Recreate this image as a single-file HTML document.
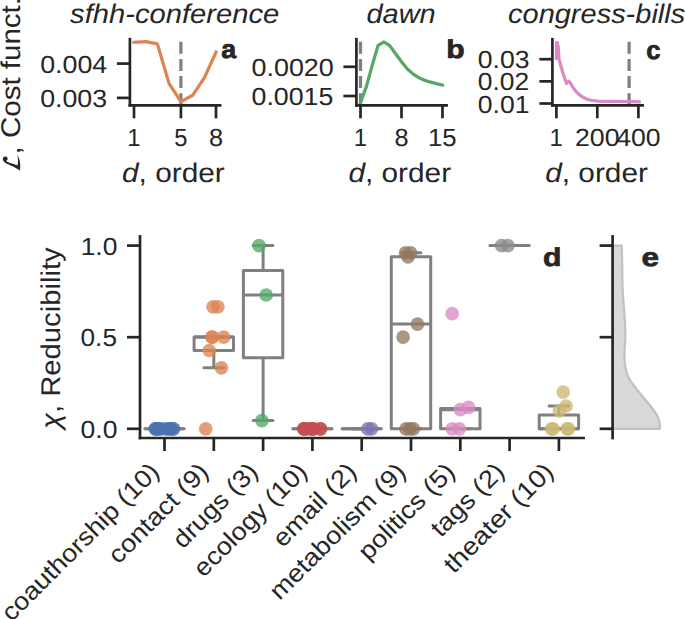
<!DOCTYPE html>
<html><head><meta charset="utf-8"><style>
html,body{margin:0;padding:0;background:#fff;}
svg{display:block;font-family:"Liberation Sans",sans-serif;font-kerning:none;text-rendering:geometricPrecision;}
</style></head><body>
<svg width="685" height="619" viewBox="0 0 685 619">
<rect width="685" height="619" fill="#fff"/>
<line x1="180.90" y1="105.30" x2="180.90" y2="39.20" stroke="#808080" stroke-width="3.24" stroke-linecap="butt" stroke-dasharray="12 5.18"/>
<polyline points="134.00,42.30 145.70,41.70 157.40,43.90 169.10,83.60 180.90,101.60 192.60,95.30 204.30,77.80 216.00,52.20" fill="none" stroke="#dd8452" stroke-width="3.24" stroke-linejoin="round" stroke-linecap="square"/>
<line x1="360.50" y1="105.30" x2="360.50" y2="39.20" stroke="#808080" stroke-width="3.24" stroke-linecap="butt" stroke-dasharray="12 5.18"/>
<polyline points="360.50,102.60 366.36,86.60 372.21,65.40 378.07,45.40 383.93,42.00 389.79,45.70 395.64,53.70 401.50,61.70 407.36,69.00 413.21,74.10 419.07,77.80 424.93,80.40 430.78,82.20 436.64,83.60 442.50,85.10" fill="none" stroke="#55a868" stroke-width="3.24" stroke-linejoin="round" stroke-linecap="square"/>
<line x1="629.10" y1="105.30" x2="629.10" y2="39.20" stroke="#808080" stroke-width="3.24" stroke-linecap="butt" stroke-dasharray="12 5.18"/>
<polyline points="556.40,58.30 556.60,42.30 557.50,43.00 557.70,56.00 558.00,45.50 558.50,50.00 559.00,59.00 560.30,63.50 561.20,67.00 562.60,72.00 564.10,76.70 565.40,80.50 566.50,83.50 567.80,82.20 568.90,81.10 570.20,82.60 572.30,86.40 574.30,89.20 576.20,91.70 581.00,96.00 584.50,98.00 588.00,99.60 592.40,100.50 598.00,101.10 605.00,101.30 612.00,101.30 620.00,101.50 630.00,101.70 639.20,101.80" fill="none" stroke="#da8bc3" stroke-width="3.24" stroke-linejoin="round" stroke-linecap="square"/>
<path d="M144.80,428.80 H184.20 V428.80 H144.80 Z" fill="none" stroke="#808080" stroke-width="3.0" stroke-linejoin="round" stroke-linecap="round"/>
<line x1="144.80" y1="428.80" x2="184.20" y2="428.80" stroke="#808080" stroke-width="3.0" stroke-linecap="butt"/>
<line x1="154.65" y1="428.80" x2="174.35" y2="428.80" stroke="#808080" stroke-width="3.0" stroke-linecap="round"/>
<line x1="154.65" y1="428.80" x2="174.35" y2="428.80" stroke="#808080" stroke-width="3.0" stroke-linecap="round"/>
<path d="M194.10,337.10 H233.50 V350.50 H194.10 Z" fill="none" stroke="#808080" stroke-width="3.0" stroke-linejoin="round" stroke-linecap="round"/>
<line x1="194.10" y1="337.10" x2="233.50" y2="337.10" stroke="#808080" stroke-width="3.0" stroke-linecap="butt"/>
<line x1="213.80" y1="350.50" x2="213.80" y2="367.80" stroke="#808080" stroke-width="3.0" stroke-linecap="butt"/>
<line x1="203.95" y1="337.10" x2="223.65" y2="337.10" stroke="#808080" stroke-width="3.0" stroke-linecap="round"/>
<line x1="203.95" y1="367.80" x2="223.65" y2="367.80" stroke="#808080" stroke-width="3.0" stroke-linecap="round"/>
<path d="M243.40,270.40 H282.80 V357.70 H243.40 Z" fill="none" stroke="#808080" stroke-width="3.0" stroke-linejoin="round" stroke-linecap="round"/>
<line x1="243.40" y1="295.00" x2="282.80" y2="295.00" stroke="#808080" stroke-width="3.0" stroke-linecap="butt"/>
<line x1="263.10" y1="270.40" x2="263.10" y2="245.60" stroke="#808080" stroke-width="3.0" stroke-linecap="butt"/>
<line x1="263.10" y1="357.70" x2="263.10" y2="420.60" stroke="#808080" stroke-width="3.0" stroke-linecap="butt"/>
<line x1="253.25" y1="245.60" x2="272.95" y2="245.60" stroke="#808080" stroke-width="3.0" stroke-linecap="round"/>
<line x1="253.25" y1="420.60" x2="272.95" y2="420.60" stroke="#808080" stroke-width="3.0" stroke-linecap="round"/>
<path d="M292.70,428.80 H332.10 V428.80 H292.70 Z" fill="none" stroke="#808080" stroke-width="3.0" stroke-linejoin="round" stroke-linecap="round"/>
<line x1="292.70" y1="428.80" x2="332.10" y2="428.80" stroke="#808080" stroke-width="3.0" stroke-linecap="butt"/>
<line x1="302.55" y1="428.80" x2="322.25" y2="428.80" stroke="#808080" stroke-width="3.0" stroke-linecap="round"/>
<line x1="302.55" y1="428.80" x2="322.25" y2="428.80" stroke="#808080" stroke-width="3.0" stroke-linecap="round"/>
<path d="M342.00,428.80 H381.40 V428.80 H342.00 Z" fill="none" stroke="#808080" stroke-width="3.0" stroke-linejoin="round" stroke-linecap="round"/>
<line x1="342.00" y1="428.80" x2="381.40" y2="428.80" stroke="#808080" stroke-width="3.0" stroke-linecap="butt"/>
<line x1="351.85" y1="428.80" x2="371.55" y2="428.80" stroke="#808080" stroke-width="3.0" stroke-linecap="round"/>
<line x1="351.85" y1="428.80" x2="371.55" y2="428.80" stroke="#808080" stroke-width="3.0" stroke-linecap="round"/>
<path d="M391.30,256.70 H430.70 V428.80 H391.30 Z" fill="none" stroke="#808080" stroke-width="3.0" stroke-linejoin="round" stroke-linecap="round"/>
<line x1="391.30" y1="324.10" x2="430.70" y2="324.10" stroke="#808080" stroke-width="3.0" stroke-linecap="butt"/>
<line x1="411.00" y1="256.70" x2="411.00" y2="252.80" stroke="#808080" stroke-width="3.0" stroke-linecap="butt"/>
<line x1="401.15" y1="252.80" x2="420.85" y2="252.80" stroke="#808080" stroke-width="3.0" stroke-linecap="round"/>
<line x1="401.15" y1="428.80" x2="420.85" y2="428.80" stroke="#808080" stroke-width="3.0" stroke-linecap="round"/>
<path d="M440.60,408.60 H480.00 V428.80 H440.60 Z" fill="none" stroke="#808080" stroke-width="3.0" stroke-linejoin="round" stroke-linecap="round"/>
<line x1="440.60" y1="409.80" x2="480.00" y2="409.80" stroke="#808080" stroke-width="3.0" stroke-linecap="butt"/>
<line x1="450.45" y1="408.60" x2="470.15" y2="408.60" stroke="#808080" stroke-width="3.0" stroke-linecap="round"/>
<line x1="450.45" y1="428.80" x2="470.15" y2="428.80" stroke="#808080" stroke-width="3.0" stroke-linecap="round"/>
<path d="M489.90,245.60 H529.30 V245.60 H489.90 Z" fill="none" stroke="#808080" stroke-width="3.0" stroke-linejoin="round" stroke-linecap="round"/>
<line x1="489.90" y1="245.60" x2="529.30" y2="245.60" stroke="#808080" stroke-width="3.0" stroke-linecap="butt"/>
<line x1="499.75" y1="245.60" x2="519.45" y2="245.60" stroke="#808080" stroke-width="3.0" stroke-linecap="round"/>
<line x1="499.75" y1="245.60" x2="519.45" y2="245.60" stroke="#808080" stroke-width="3.0" stroke-linecap="round"/>
<path d="M539.20,414.90 H578.60 V428.80 H539.20 Z" fill="none" stroke="#808080" stroke-width="3.0" stroke-linejoin="round" stroke-linecap="round"/>
<line x1="539.20" y1="428.80" x2="578.60" y2="428.80" stroke="#808080" stroke-width="3.0" stroke-linecap="butt"/>
<line x1="558.90" y1="414.90" x2="558.90" y2="406.00" stroke="#808080" stroke-width="3.0" stroke-linecap="butt"/>
<line x1="549.05" y1="406.00" x2="568.75" y2="406.00" stroke="#808080" stroke-width="3.0" stroke-linecap="round"/>
<line x1="549.05" y1="428.80" x2="568.75" y2="428.80" stroke="#808080" stroke-width="3.0" stroke-linecap="round"/>
<circle cx="155.20" cy="428.80" r="6.85" fill="#4c72b0" fill-opacity="0.78"/>
<circle cx="155.80" cy="428.80" r="6.85" fill="#4c72b0" fill-opacity="0.78"/>
<circle cx="157.00" cy="428.80" r="6.85" fill="#4c72b0" fill-opacity="0.78"/>
<circle cx="158.80" cy="428.80" r="6.85" fill="#4c72b0" fill-opacity="0.78"/>
<circle cx="161.00" cy="428.80" r="6.85" fill="#4c72b0" fill-opacity="0.78"/>
<circle cx="166.20" cy="428.80" r="6.85" fill="#4c72b0" fill-opacity="0.78"/>
<circle cx="168.50" cy="428.80" r="6.85" fill="#4c72b0" fill-opacity="0.78"/>
<circle cx="170.80" cy="428.80" r="6.85" fill="#4c72b0" fill-opacity="0.78"/>
<circle cx="172.60" cy="428.80" r="6.85" fill="#4c72b0" fill-opacity="0.78"/>
<circle cx="173.60" cy="428.80" r="6.85" fill="#4c72b0" fill-opacity="0.78"/>
<circle cx="213.00" cy="306.80" r="6.85" fill="#dd8452" fill-opacity="0.78"/>
<circle cx="217.90" cy="306.80" r="6.85" fill="#dd8452" fill-opacity="0.78"/>
<circle cx="211.90" cy="337.10" r="6.85" fill="#dd8452" fill-opacity="0.78"/>
<circle cx="212.20" cy="337.10" r="6.85" fill="#dd8452" fill-opacity="0.78"/>
<circle cx="223.60" cy="337.10" r="6.85" fill="#dd8452" fill-opacity="0.78"/>
<circle cx="209.30" cy="350.50" r="6.85" fill="#dd8452" fill-opacity="0.78"/>
<circle cx="221.40" cy="367.80" r="6.85" fill="#dd8452" fill-opacity="0.78"/>
<circle cx="205.70" cy="428.80" r="6.85" fill="#dd8452" fill-opacity="0.78"/>
<circle cx="259.00" cy="245.60" r="6.85" fill="#55a868" fill-opacity="0.78"/>
<circle cx="266.20" cy="295.00" r="6.85" fill="#55a868" fill-opacity="0.78"/>
<circle cx="261.90" cy="420.60" r="6.85" fill="#55a868" fill-opacity="0.78"/>
<circle cx="303.60" cy="428.80" r="6.85" fill="#c44e52" fill-opacity="0.78"/>
<circle cx="304.00" cy="428.80" r="6.85" fill="#c44e52" fill-opacity="0.78"/>
<circle cx="304.60" cy="428.80" r="6.85" fill="#c44e52" fill-opacity="0.78"/>
<circle cx="306.50" cy="428.80" r="6.85" fill="#c44e52" fill-opacity="0.78"/>
<circle cx="311.00" cy="428.80" r="6.85" fill="#c44e52" fill-opacity="0.78"/>
<circle cx="311.80" cy="428.80" r="6.85" fill="#c44e52" fill-opacity="0.78"/>
<circle cx="312.50" cy="428.80" r="6.85" fill="#c44e52" fill-opacity="0.78"/>
<circle cx="313.50" cy="428.80" r="6.85" fill="#c44e52" fill-opacity="0.78"/>
<circle cx="320.20" cy="428.80" r="6.85" fill="#c44e52" fill-opacity="0.78"/>
<circle cx="320.60" cy="428.80" r="6.85" fill="#c44e52" fill-opacity="0.78"/>
<circle cx="367.80" cy="428.80" r="6.85" fill="#8172b3" fill-opacity="0.78"/>
<circle cx="371.50" cy="428.80" r="6.85" fill="#8172b3" fill-opacity="0.78"/>
<circle cx="405.60" cy="252.80" r="6.85" fill="#937860" fill-opacity="0.78"/>
<circle cx="410.60" cy="252.80" r="6.85" fill="#937860" fill-opacity="0.78"/>
<circle cx="408.00" cy="257.00" r="6.85" fill="#937860" fill-opacity="0.78"/>
<circle cx="417.50" cy="324.10" r="6.85" fill="#937860" fill-opacity="0.78"/>
<circle cx="403.10" cy="337.20" r="6.85" fill="#937860" fill-opacity="0.78"/>
<circle cx="406.00" cy="428.80" r="6.85" fill="#937860" fill-opacity="0.78"/>
<circle cx="410.00" cy="428.80" r="6.85" fill="#937860" fill-opacity="0.78"/>
<circle cx="413.40" cy="428.80" r="6.85" fill="#937860" fill-opacity="0.78"/>
<circle cx="452.20" cy="313.70" r="6.85" fill="#da8bc3" fill-opacity="0.78"/>
<circle cx="460.40" cy="409.70" r="6.85" fill="#da8bc3" fill-opacity="0.78"/>
<circle cx="468.60" cy="407.40" r="6.85" fill="#da8bc3" fill-opacity="0.78"/>
<circle cx="452.20" cy="428.80" r="6.85" fill="#da8bc3" fill-opacity="0.78"/>
<circle cx="459.30" cy="428.80" r="6.85" fill="#da8bc3" fill-opacity="0.78"/>
<circle cx="501.60" cy="245.60" r="6.85" fill="#8c8c8c" fill-opacity="0.78"/>
<circle cx="508.00" cy="245.60" r="6.85" fill="#8c8c8c" fill-opacity="0.78"/>
<circle cx="563.20" cy="392.10" r="6.85" fill="#ccb974" fill-opacity="0.78"/>
<circle cx="566.10" cy="406.00" r="6.85" fill="#ccb974" fill-opacity="0.78"/>
<circle cx="559.40" cy="410.80" r="6.85" fill="#ccb974" fill-opacity="0.78"/>
<circle cx="551.50" cy="428.80" r="6.85" fill="#ccb974" fill-opacity="0.78"/>
<circle cx="553.20" cy="428.80" r="6.85" fill="#ccb974" fill-opacity="0.78"/>
<circle cx="567.00" cy="428.80" r="6.85" fill="#ccb974" fill-opacity="0.78"/>
<circle cx="568.60" cy="428.80" r="6.85" fill="#ccb974" fill-opacity="0.78"/>
<path d="M612.6,245.60 L621.60,245.60 C621.67,247.33 621.83,248.85 622.00,256.00 C622.17,263.15 622.32,280.40 622.60,288.50 C622.88,296.60 623.32,299.22 623.70,304.60 C624.08,309.98 624.63,315.40 624.90,320.80 C625.17,326.20 625.37,332.13 625.30,337.00 C625.23,341.87 624.62,346.08 624.50,350.00 C624.38,353.92 624.33,357.05 624.60,360.50 C624.87,363.95 625.28,367.58 626.10,370.70 C626.92,373.82 627.95,376.38 629.50,379.20 C631.05,382.02 633.15,384.63 635.40,387.60 C637.65,390.57 640.45,393.88 643.00,397.00 C645.55,400.12 648.43,403.35 650.70,406.30 C652.97,409.25 655.13,412.02 656.60,414.70 C658.07,417.38 658.97,420.05 659.50,422.40 C660.03,424.75 659.75,427.73 659.80,428.80 L612.6,428.80 Z" fill="#d9d9d9" stroke="none"/>
<path d="M612.6,245.60 L621.60,245.60 C621.67,247.33 621.83,248.85 622.00,256.00 C622.17,263.15 622.32,280.40 622.60,288.50 C622.88,296.60 623.32,299.22 623.70,304.60 C624.08,309.98 624.63,315.40 624.90,320.80 C625.17,326.20 625.37,332.13 625.30,337.00 C625.23,341.87 624.62,346.08 624.50,350.00 C624.38,353.92 624.33,357.05 624.60,360.50 C624.87,363.95 625.28,367.58 626.10,370.70 C626.92,373.82 627.95,376.38 629.50,379.20 C631.05,382.02 633.15,384.63 635.40,387.60 C637.65,390.57 640.45,393.88 643.00,397.00 C645.55,400.12 648.43,403.35 650.70,406.30 C652.97,409.25 655.13,412.02 656.60,414.70 C658.07,417.38 658.97,420.05 659.50,422.40 C660.03,424.75 659.75,427.73 659.80,428.80 L612.6,428.80" fill="none" stroke="#c2c2c2" stroke-width="2.3" stroke-linejoin="round"/>
<path d="M19.9,170.6 C20.7,167 20.6,160.5 17.3,154.6 C18.2,158.5 18.3,162.5 17.5,165.4 C13.5,163.7 8.5,162.6 6.0,160.9 C7.4,160.6 7.9,159.4 7.5,158.0 C7.0,156.4 4.6,156.0 3.4,157.3 C2.2,158.7 2.9,161.0 4.8,162.4 C8.5,165.0 14.5,166.2 19.9,170.6 Z" fill="#262626"/>
<line x1="129.90" y1="105.30" x2="129.90" y2="39.20" stroke="#262626" stroke-width="2.7" stroke-linecap="square"/>
<line x1="129.90" y1="105.30" x2="220.10" y2="105.30" stroke="#262626" stroke-width="2.7" stroke-linecap="square"/>
<line x1="134.00" y1="105.30" x2="134.00" y2="118.30" stroke="#262626" stroke-width="2.7" stroke-linecap="butt"/>
<line x1="180.90" y1="105.30" x2="180.90" y2="118.30" stroke="#262626" stroke-width="2.7" stroke-linecap="butt"/>
<line x1="216.00" y1="105.30" x2="216.00" y2="118.30" stroke="#262626" stroke-width="2.7" stroke-linecap="butt"/>
<line x1="116.90" y1="63.60" x2="129.90" y2="63.60" stroke="#262626" stroke-width="2.7" stroke-linecap="butt"/>
<line x1="116.90" y1="97.90" x2="129.90" y2="97.90" stroke="#262626" stroke-width="2.7" stroke-linecap="butt"/>
<line x1="356.40" y1="105.30" x2="356.40" y2="39.20" stroke="#262626" stroke-width="2.7" stroke-linecap="square"/>
<line x1="356.40" y1="105.30" x2="446.60" y2="105.30" stroke="#262626" stroke-width="2.7" stroke-linecap="square"/>
<line x1="360.50" y1="105.30" x2="360.50" y2="118.30" stroke="#262626" stroke-width="2.7" stroke-linecap="butt"/>
<line x1="401.50" y1="105.30" x2="401.50" y2="118.30" stroke="#262626" stroke-width="2.7" stroke-linecap="butt"/>
<line x1="442.50" y1="105.30" x2="442.50" y2="118.30" stroke="#262626" stroke-width="2.7" stroke-linecap="butt"/>
<line x1="343.40" y1="66.80" x2="356.40" y2="66.80" stroke="#262626" stroke-width="2.7" stroke-linecap="butt"/>
<line x1="343.40" y1="96.00" x2="356.40" y2="96.00" stroke="#262626" stroke-width="2.7" stroke-linecap="butt"/>
<line x1="552.40" y1="105.30" x2="552.40" y2="39.20" stroke="#262626" stroke-width="2.7" stroke-linecap="square"/>
<line x1="552.40" y1="105.30" x2="642.60" y2="105.30" stroke="#262626" stroke-width="2.7" stroke-linecap="square"/>
<line x1="556.40" y1="105.30" x2="556.40" y2="118.30" stroke="#262626" stroke-width="2.7" stroke-linecap="butt"/>
<line x1="597.30" y1="105.30" x2="597.30" y2="118.30" stroke="#262626" stroke-width="2.7" stroke-linecap="butt"/>
<line x1="638.40" y1="105.30" x2="638.40" y2="118.30" stroke="#262626" stroke-width="2.7" stroke-linecap="butt"/>
<line x1="539.40" y1="59.20" x2="552.40" y2="59.20" stroke="#262626" stroke-width="2.7" stroke-linecap="butt"/>
<line x1="539.40" y1="81.35" x2="552.40" y2="81.35" stroke="#262626" stroke-width="2.7" stroke-linecap="butt"/>
<line x1="539.40" y1="103.50" x2="552.40" y2="103.50" stroke="#262626" stroke-width="2.7" stroke-linecap="butt"/>
<line x1="140.00" y1="438.00" x2="140.00" y2="236.45" stroke="#262626" stroke-width="2.7" stroke-linecap="square"/>
<line x1="140.00" y1="438.00" x2="583.60" y2="438.00" stroke="#262626" stroke-width="2.7" stroke-linecap="square"/>
<line x1="164.50" y1="438.00" x2="164.50" y2="451.00" stroke="#262626" stroke-width="2.7" stroke-linecap="butt"/>
<line x1="213.80" y1="438.00" x2="213.80" y2="451.00" stroke="#262626" stroke-width="2.7" stroke-linecap="butt"/>
<line x1="263.10" y1="438.00" x2="263.10" y2="451.00" stroke="#262626" stroke-width="2.7" stroke-linecap="butt"/>
<line x1="312.40" y1="438.00" x2="312.40" y2="451.00" stroke="#262626" stroke-width="2.7" stroke-linecap="butt"/>
<line x1="361.70" y1="438.00" x2="361.70" y2="451.00" stroke="#262626" stroke-width="2.7" stroke-linecap="butt"/>
<line x1="411.00" y1="438.00" x2="411.00" y2="451.00" stroke="#262626" stroke-width="2.7" stroke-linecap="butt"/>
<line x1="460.30" y1="438.00" x2="460.30" y2="451.00" stroke="#262626" stroke-width="2.7" stroke-linecap="butt"/>
<line x1="509.60" y1="438.00" x2="509.60" y2="451.00" stroke="#262626" stroke-width="2.7" stroke-linecap="butt"/>
<line x1="558.90" y1="438.00" x2="558.90" y2="451.00" stroke="#262626" stroke-width="2.7" stroke-linecap="butt"/>
<line x1="127.00" y1="428.80" x2="140.00" y2="428.80" stroke="#262626" stroke-width="2.7" stroke-linecap="butt"/>
<line x1="127.00" y1="337.20" x2="140.00" y2="337.20" stroke="#262626" stroke-width="2.7" stroke-linecap="butt"/>
<line x1="127.00" y1="245.60" x2="140.00" y2="245.60" stroke="#262626" stroke-width="2.7" stroke-linecap="butt"/>
<line x1="612.60" y1="438.00" x2="612.60" y2="236.45" stroke="#262626" stroke-width="2.7" stroke-linecap="square"/>
<line x1="599.60" y1="428.80" x2="612.60" y2="428.80" stroke="#262626" stroke-width="2.7" stroke-linecap="butt"/>
<line x1="599.60" y1="337.20" x2="612.60" y2="337.20" stroke="#262626" stroke-width="2.7" stroke-linecap="butt"/>
<line x1="599.60" y1="245.60" x2="612.60" y2="245.60" stroke="#262626" stroke-width="2.7" stroke-linecap="butt"/>
<text transform="translate(40.19,72.70) scale(1.0775,1)" font-size="24.87" fill="#262626"><tspan>0.004</tspan></text>
<text transform="translate(40.19,107.00) scale(1.0746,1)" font-size="24.87" fill="#262626"><tspan>0.003</tspan></text>
<text transform="translate(127.22,145.50) scale(0.9634,1)" font-size="24.87" fill="#262626"><tspan>1</tspan></text>
<text transform="translate(174.22,145.50) scale(0.9520,1)" font-size="24.87" fill="#262626"><tspan>5</tspan></text>
<text transform="translate(208.94,145.50) scale(1.0197,1)" font-size="24.87" fill="#262626"><tspan>8</tspan></text>
<text transform="translate(251.54,75.90) scale(1.0809,1)" font-size="24.87" fill="#262626"><tspan>0.0020</tspan></text>
<text transform="translate(251.55,105.10) scale(1.0753,1)" font-size="24.87" fill="#262626"><tspan>0.0015</tspan></text>
<text transform="translate(353.72,145.50) scale(0.9634,1)" font-size="24.87" fill="#262626"><tspan>1</tspan></text>
<text transform="translate(394.44,145.50) scale(1.0197,1)" font-size="24.87" fill="#262626"><tspan>8</tspan></text>
<text transform="translate(428.01,145.50) scale(1.0350,1)" font-size="24.87" fill="#262626"><tspan>15</tspan></text>
<text transform="translate(477.84,68.30) scale(1.0685,1)" font-size="24.87" fill="#262626"><tspan>0.03</tspan></text>
<text transform="translate(477.85,90.45) scale(1.0619,1)" font-size="24.87" fill="#262626"><tspan>0.02</tspan></text>
<text transform="translate(477.84,112.60) scale(1.0651,1)" font-size="24.87" fill="#262626"><tspan>0.01</tspan></text>
<text transform="translate(549.62,145.50) scale(0.9634,1)" font-size="24.87" fill="#262626"><tspan>1</tspan></text>
<text transform="translate(574.99,145.50) scale(1.0720,1)" font-size="24.87" fill="#262626"><tspan>200</tspan></text>
<text transform="translate(616.24,145.50) scale(1.0683,1)" font-size="24.87" fill="#262626"><tspan>400</tspan></text>
<text transform="translate(70.09,22.70) scale(1.0780,1)" font-size="27.07" fill="#262626"><tspan font-style="italic">sfhh-conference</tspan></text>
<text transform="translate(366.44,22.70) scale(1.0703,1)" font-size="27.07" fill="#262626"><tspan font-style="italic">dawn</tspan></text>
<text transform="translate(508.03,22.70) scale(1.0709,1)" font-size="27.07" fill="#262626"><tspan font-style="italic">congress-bills</tspan></text>
<text transform="translate(121.98,181.50) scale(1.1014,1)" font-size="27.07" fill="#262626"><tspan font-style="italic">d</tspan><tspan>, order</tspan></text>
<text transform="translate(348.38,181.50) scale(1.1014,1)" font-size="27.07" fill="#262626"><tspan font-style="italic">d</tspan><tspan>, order</tspan></text>
<text transform="translate(545.18,181.50) scale(1.1014,1)" font-size="27.07" fill="#262626"><tspan font-style="italic">d</tspan><tspan>, order</tspan></text>
<text transform="translate(221.16,58.35) scale(1.0375,1)" font-size="25.90" fill="#262626" stroke="#262626" stroke-width="0.7"><tspan font-weight="bold">a</tspan></text>
<text transform="translate(446.26,58.35) scale(1.1647,1)" font-size="25.90" fill="#262626" stroke="#262626" stroke-width="0.7"><tspan font-weight="bold">b</tspan></text>
<text transform="translate(646.15,58.65) scale(0.9900,1)" font-size="25.90" fill="#262626" stroke="#262626" stroke-width="0.7"><tspan font-weight="bold">c</tspan></text>
<text transform="translate(543.01,266.15) scale(1.1647,1)" font-size="25.90" fill="#262626" stroke="#262626" stroke-width="0.7"><tspan font-weight="bold">d</tspan></text>
<text transform="translate(641.62,266.35) scale(1.2154,1)" font-size="25.90" fill="#262626" stroke="#262626" stroke-width="0.7"><tspan font-weight="bold">e</tspan></text>
<text transform="translate(80.59,437.90) scale(1.0634,1)" font-size="24.87" fill="#262626"><tspan>0.0</tspan></text>
<text transform="translate(80.60,346.30) scale(1.0505,1)" font-size="24.87" fill="#262626"><tspan>0.5</tspan></text>
<text transform="translate(80.65,254.70) scale(1.0614,1)" font-size="24.87" fill="#262626"><tspan>1.0</tspan></text>
<text transform="translate(11.42,622.48) rotate(-45) scale(1.0911,1)" font-size="24.87" fill="#262626"><tspan>coauthorship (10)</tspan></text>
<text transform="translate(118.24,564.96) rotate(-45) scale(1.1052,1)" font-size="24.87" fill="#262626"><tspan>contact (9)</tspan></text>
<text transform="translate(182.82,549.68) rotate(-45) scale(1.0874,1)" font-size="24.87" fill="#262626"><tspan>drugs (3)</tspan></text>
<text transform="translate(203.61,578.19) rotate(-45) scale(1.0853,1)" font-size="24.87" fill="#262626"><tspan>ecology (10)</tspan></text>
<text transform="translate(282.71,548.39) rotate(-45) scale(1.1000,1)" font-size="24.87" fill="#262626"><tspan>email (2)</tspan></text>
<text transform="translate(279.41,600.99) rotate(-45) scale(1.0993,1)" font-size="24.87" fill="#262626"><tspan>metabolism (9)</tspan></text>
<text transform="translate(368.27,561.43) rotate(-45) scale(1.1017,1)" font-size="24.87" fill="#262626"><tspan>politics (5)</tspan></text>
<text transform="translate(440.71,538.29) rotate(-45) scale(1.0925,1)" font-size="24.87" fill="#262626"><tspan>tags (2)</tspan></text>
<text transform="translate(453.86,574.44) rotate(-45) scale(1.1144,1)" font-size="24.87" fill="#262626"><tspan>theater (10)</tspan></text>
<text transform="translate(19.90,154.45) rotate(-90) scale(1.0900,1)" font-size="27.07" fill="#262626"><tspan>, Cost funct.</tspan></text>
<text transform="translate(60.20,429.07) rotate(-90) scale(1.0810,1)" font-size="27.07" fill="#262626"><tspan font-style="italic">χ</tspan><tspan>, Reducibility</tspan></text>
</svg>
</body></html>
